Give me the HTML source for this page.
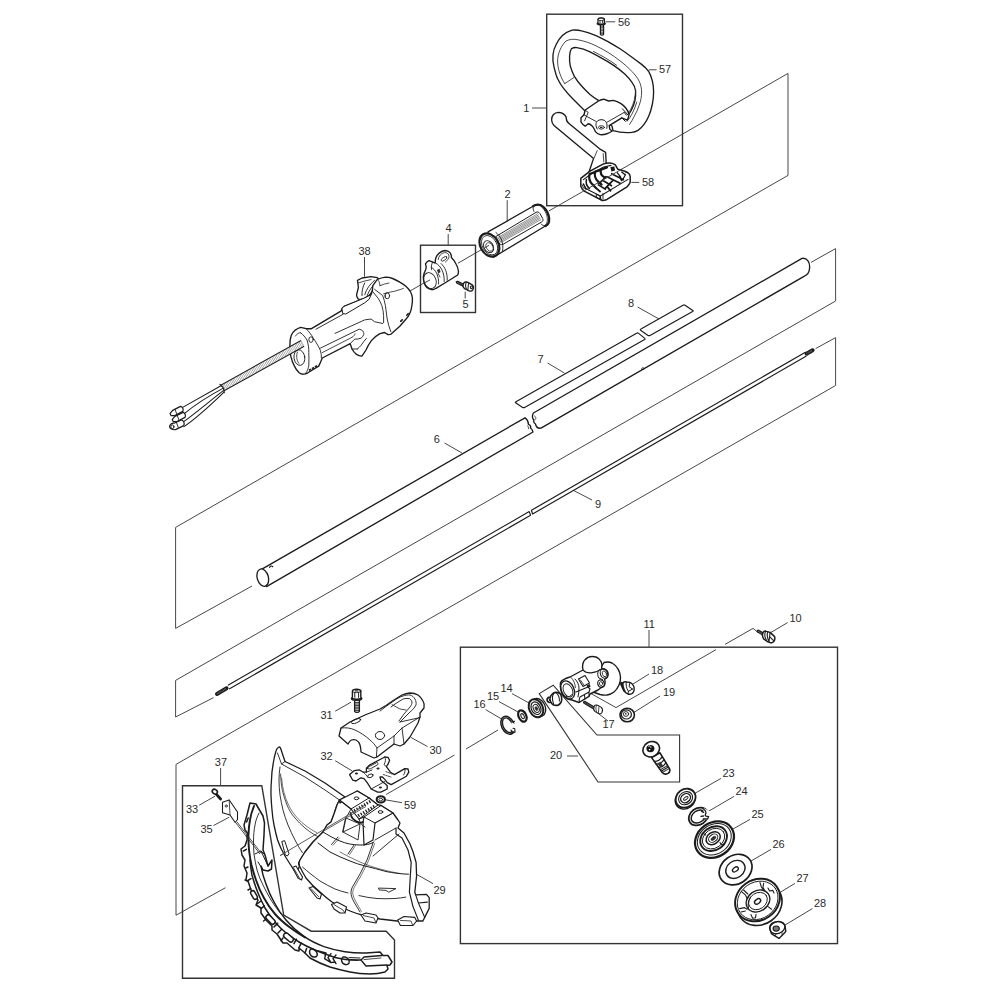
<!DOCTYPE html>
<html><head><meta charset="utf-8"><title>Parts diagram</title>
<style>
html,body{margin:0;padding:0;background:#fff;}
svg{display:block;}
text{font-family:"Liberation Sans",sans-serif;font-size:11px;fill:#2a2a2a;}
.g{fill:none;stroke:#484848;stroke-width:1;}
.b{fill:none;stroke:#333;stroke-width:1.4;}
.p{fill:#fff;stroke:#1c1c1c;stroke-width:1.35;stroke-linejoin:round;stroke-linecap:round;}
.n{fill:none;stroke:#1c1c1c;stroke-width:1.1;stroke-linejoin:round;stroke-linecap:round;}
.t{fill:none;stroke:#2a2a2a;stroke-width:0.85;stroke-linejoin:round;stroke-linecap:round;}
.k{fill:#333;stroke:#1c1c1c;stroke-width:0.8;}
</style></head>
<body>
<svg width="1000" height="1000" viewBox="0 0 1000 1000">
<rect width="1000" height="1000" fill="#fff"/>

<!-- ===== guide lines ===== -->
<g class="g" id="guides">
<!-- axis A -->
<path d="M612,174.7 L788,73.4 V175.4 L175.6,527.4 V628.4 L252,586"/>
<path d="M582.5,191.7 L548.8,211"/>
<path d="M485,247.6 L458,263.2"/>
<path d="M429.5,279.8 L410,291"/>
<!-- C -->
<path d="M811,262.4 L835.6,248.6 V301 L175.6,680.4 V717 L213.6,697.6"/>
<!-- D -->
<path d="M815.6,348.6 L835.6,337.6 V385.5 L176,764.4 V915.2 L225.5,887.7"/>
<!-- bolt10 line -->
<path d="M758,632.4 L753,628.4 L725,644.4"/>
<path d="M716,649.6 L616,707.6 L590,693"/>
<!-- from 16 -->
<path d="M498,730 L466,749"/>
<path d="M454.5,755 L386.2,794.5"/>
<path d="M320,833.7 L280.2,855.5"/>
</g>

<!-- ===== boxes ===== -->
<g class="b" id="boxes">
<rect x="546.7" y="14.2" width="135.8" height="191.5"/>
<rect x="420.5" y="245.2" width="55" height="67.3"/>
<rect x="460.4" y="647.2" width="377.1" height="296.4"/>
<path d="M539.2,693.6 L553.2,685.2 L597,735 H679.6 V782 H598 Z" style="stroke-width:1.1"/>
<path d="M182.5,785.7 H261.8 L283.7,915 L311.2,931.2 H386.2 L394.5,940 V978.2 H182.5 Z"/>
</g>

<!-- ===== labels ===== -->
<g id="labels">
<text x="523.2" y="111.6">1</text>
<text x="618" y="25.7">56</text>
<text x="659" y="73">57</text>
<text x="642" y="186">58</text>
<text x="504.5" y="198">2</text>
<text x="445.5" y="231.7">4</text>
<text x="462.5" y="308.2">5</text>
<text x="358.5" y="255">38</text>
<text x="628" y="306.6">8</text>
<text x="537.5" y="363">7</text>
<text x="433.7" y="443">6</text>
<text x="595" y="507.5">9</text>
<text x="789.5" y="622">10</text>
<text x="643.5" y="628">11</text>
<text x="500.5" y="692.4">14</text>
<text x="487" y="700.4">15</text>
<text x="473.5" y="708.4">16</text>
<text x="602.5" y="728">17</text>
<text x="651" y="673.6">18</text>
<text x="663" y="695.6">19</text>
<text x="550" y="758.6">20</text>
<text x="722.5" y="777">23</text>
<text x="735.5" y="795">24</text>
<text x="751.5" y="818">25</text>
<text x="772.5" y="847.6">26</text>
<text x="796.5" y="881.6">27</text>
<text x="814" y="907">28</text>
<text x="433.5" y="893.6">29</text>
<text x="429.5" y="754.3">30</text>
<text x="320.5" y="718.7">31</text>
<text x="320.5" y="759.7">32</text>
<text x="186" y="812.7">33</text>
<text x="200.5" y="833">35</text>
<text x="214.8" y="765.8">37</text>
<text x="404" y="808.7">59</text>
</g>

<!-- ===== leaders ===== -->
<g class="g" id="leaders">
<path d="M532,108 H546.7"/>
<path d="M605.6,21.8 H615.2"/>
<path d="M648.8,69.8 H656.6"/>
<path d="M631.4,182.4 H639.2"/>
<path d="M507.2,200.2 V221.2"/>
<path d="M448.2,234 V245.2"/>
<path d="M465.2,291.7 V298.5"/>
<path d="M364.5,257 V276.7"/>
<path d="M649,630 V647.2"/>
<path d="M787.6,622.6 L770,633"/>
<path d="M512,693.6 L529,703"/>
<path d="M499,701.6 L518,712"/>
<path d="M485.6,709.6 L501.6,719"/>
<path d="M608,721 L599,714"/>
<path d="M649,674 L633,684"/>
<path d="M660,696 L634,712.4"/>
<path d="M567,756 H578"/>
<path d="M721,778.4 L693,794.4"/>
<path d="M734,796.4 L708,811.6"/>
<path d="M750,819.4 L733,829"/>
<path d="M771,849.4 L751,861"/>
<path d="M795,883.4 L780,892.4"/>
<path d="M812.4,908.6 L785,925"/>
<path d="M335.2,711.2 L351,702.2"/>
<path d="M427.5,746.5 L411,737.5"/>
<path d="M335.2,760.7 L352.5,771.2"/>
<path d="M402,802.7 L384.7,799.7"/>
<path d="M199.2,805.2 L215,796.2"/>
<path d="M213.5,825.5 L229.2,817.2"/>
<path d="M220.6,768 V785.7"/>
<path d="M416,874 L433,883.6"/>
<path d="M637.6,307 L659,319"/>
<path d="M547.6,363 L564.4,373"/>
<path d="M444.5,443 L462,453"/>
<path d="M592,500 L573.7,490.5"/>
</g>

<!-- PARTS -->
<g id="tube">
<!-- decals -->
<path class="n" d="M641.4,328.8 L683,305.2 Q684,304.6 685,305.2 L692.8,310.4 Q693.6,311 692.6,311.6 L650,335.4 Q649,336 648,335.4 L640.6,330.2 Q639.8,329.6 641.4,328.8 Z" style="stroke-width:1.2"/>
<path class="n" d="M516.4,401.6 L636.6,333.2 Q637.6,332.6 638.6,333.4 L644.8,338.4 Q645.6,339 644.6,339.6 L524.6,407.4 Q523.6,408 522.6,407.4 L515.6,402.8 Q514.8,402.4 516.4,401.6 Z" style="stroke-width:1.2"/>
<!-- tube left half -->
<path class="p" d="M261.5,569.4 L525,417.8 C527,419.4 528.5,422.4 528.5,424.4 C530,425 531,426.6 530.5,428 C531.5,428.6 532.5,430 533,432 L266.5,586.6 Z" style="stroke-width:1.35"/>
<ellipse class="p" cx="262.8" cy="577.6" rx="5.6" ry="8.9" transform="rotate(-16 262.8 577.6)" style="stroke-width:1.35"/>
<path class="n" d="M269.6,567.4 c0.2,-1.4 2.4,-2 3.2,-0.6" style="stroke-width:1.2"/>
<!-- tube right half -->
<path class="p" d="M533.4,413 L802,258.4 C807,257.6 810,262 809.6,268 C809.4,272 807.5,275 804,276.4 L541,428.2 C537.5,428.8 536,426.4 535.5,424 C534,423 533.5,421 534,420 C532.5,418.6 532,415.6 533.4,413 Z" style="stroke-width:1.35"/>
<path class="n" d="M641.6,369.6 c-0.4,-1.6 1.2,-2.6 2.2,-1.6 c0.8,1 -0.2,2 -1.2,1.6" style="stroke-width:0.8"/>
<path class="t" d="M534.6,416 c1.2,0.6 1.6,2 1,3.2 M527.6,426 c1,0.4 1.4,1.6 1,2.6"/>
</g>
<g id="rod">
<path class="n" d="M228.4,685.1 L529.2,511.6 L530.6,515.2 L229.6,688.8" style="stroke-width:1.15"/>
<path class="n" d="M805.4,352.2 L531.4,510.3 L532.6,514.0 L806.0,356.3" style="stroke-width:1.15"/>
<path d="M217.0,693.9 L226.6,688.3" style="stroke:#1a1a1a;stroke-width:4;stroke-linecap:round;fill:none"/>
<path d="M217.0,693.9 L226.6,688.3" style="stroke:#777;stroke-width:1.6;stroke-dasharray:0.7 0.7;fill:none"/>
<path d="M806.6,353.7 L812.6,350.3" style="stroke:#1a1a1a;stroke-width:4;stroke-linecap:round;fill:none"/>
<path d="M806.6,353.7 L812.6,350.3" style="stroke:#777;stroke-width:1.6;stroke-dasharray:0.7 0.7;fill:none"/>
</g>
<g id="handle57">
<!-- loop outer -->
<path class="p" d="M572,30.2 C568,31.5 565,33 562.4,35.6 C560,38 558,41 556.4,44 C554.5,47.5 553.3,51 553,54.8 C552.6,59 553,63 554,66.8 C555,71 556,75 557.6,78.8 C559.3,82.3 561.2,85.5 563.6,88.4 C566,91.5 569,95 572,98 C576,102 580,106 584,110 L592,116 L612,126 L613,130.6 C619,132.4 626,133 632,132.4 C634,132.3 636,131.6 638,130.4 C640.3,128.8 642.3,126.8 644,124.4 C646,121.8 647.5,119 648.8,116 C650.5,112 651.6,108 652.4,104 C653.2,100 653.6,96 653.6,92 C653.6,88.3 653.3,84.7 652.4,81.2 C651.6,77.8 650.5,74.6 648.8,71.6 C646.8,68.7 644.3,66.5 641.6,64.4 C638.5,62 635.3,59.6 632,57.2 C628,54.3 624,51.5 620,48.8 C616,46.3 612,43.9 608,41.6 C604,39.5 600,37.5 596,35.6 C591,33.3 586.5,31.8 581.6,30.8 C578.3,30 575,29.8 572,30.2 Z"/>
<!-- inner opening -->
<path class="p" d="M571.4,48.8 C570.2,51 569.6,53.5 569.6,56 C569.4,59.3 569.6,62.5 570.2,65.6 C571.2,69.4 572.6,73 574.4,76.4 C576.4,79.8 578.8,83 581.6,86 C584.2,88.9 587,91.7 590,94.4 C592.7,96.6 595.5,98.6 598.4,100.4 L600,108 L622,112 L628.4,114.8 C629.9,113 631,111 632,108.8 C633.4,106 634.4,103.2 635,100.4 C635.6,97.2 635.8,94 635.6,90.8 C635.2,87.8 634,85 632,82.4 C629.9,79.4 627.5,76.6 624.8,74 C621.5,71 617.8,68.2 614,65.6 C610.2,63 606.2,60.6 602,58.4 C598,56 594,53.8 590,51.8 C585.7,49.6 581.3,48.2 576.8,47.6 C574.8,47.4 573,47.8 571.4,48.8 Z"/>
<!-- ridge lines -->
<path class="t" d="M564.8,83.6 C562.7,80.6 561.2,77.4 560,74 C558.6,70.1 557.8,66.1 557.6,62 C557.5,57.8 558.3,53.8 560,50 C561.4,46.6 563.4,43.6 566,41 C569.7,39.2 573.7,38.8 578,39.8 C584.2,41 590.2,43 596,45.8 C600.1,47.8 604.1,50 608,52.4 C612.2,55 616.2,57.8 620,60.8 C624.4,64 628.4,67.6 632,71.6 C635,74.5 637.4,77.7 639.2,81.2 C640.8,84.6 641.6,88.2 641.6,92 C641.6,96.5 640.8,100.9 639.2,105.2 C638,109 636.4,112.6 634.4,116 C633,119 631.4,121.8 629.6,124.4"/>
<path class="t" d="M593.5,51.5 C597.5,53.5 601.5,55.8 605.5,58 C609.5,60.3 613.2,62.8 616.5,65.2"/>
<path class="t" d="M564.8,83.6 L573.8,77.6"/>
<path class="t" d="M635.6,90 C635.6,93.3 635.2,96.5 634.4,99.6 C633.5,103 632.3,106.2 630.8,109.2 C629.8,111 628.6,112.6 627.2,114"/>
<path class="t" d="M636.8,102 C635.6,106.2 634,110.2 632,114 C630.6,116.6 629,119 627.2,121.2"/>
</g>
<g id="clamp57">
<path class="p" d="M585.2,110 L598.4,101 C600.4,99.8 602,99.2 603.8,99.2 L608.6,101 L613.4,100.4 C616,101 618.4,102 620.6,103.4 C622.8,104.8 624.6,106.4 626,108.2 C627.4,110 628.4,112 629,114.2 C628.8,116.6 628.2,118.6 627.2,120.2 L621.8,117.8 L609.2,125.6 L609.8,129.2 L612.2,131 C610.4,132.4 608.4,133.4 606.2,134 C604.2,134.6 602.2,134.8 600.2,134.6 C598.2,134 596.6,133 595.4,131.6 C594.6,129.6 593.6,127.8 592.4,126.2 C591,124.8 589.6,124 588.2,123.8 L585.2,126.2 C583.4,125.2 582,123.8 581,122 V117.8 L584,114.8 Z" style="stroke-width:1.4"/>
<path class="n" d="M587,116.6 L596,121.4 M607.4,122 L624.2,112.4" style="stroke-width:0.9"/>
<path class="n" d="M585.6,110.6 L588.2,112.4 L584.6,120.8 M584,114.8 L586,116" style="stroke-width:0.9"/>
<path class="n" d="M622.4,108.8 L627.8,114.8 M621.8,117.8 L625.4,121.4 M624.2,112.4 L626.4,115.2" style="stroke-width:1"/>
<path class="n" d="M597.2,129 C595.4,126 595.6,122.6 597.4,121 C599.4,119.4 602.6,119.2 604.8,120.6 C606.8,122 607.6,125 606.8,128.4" style="stroke-width:1"/>
<ellipse class="n" cx="601.4" cy="127.4" rx="3" ry="1.7" style="stroke-width:0.9"/>
<ellipse cx="601.2" cy="127.5" rx="1.4" ry="0.8" fill="#222"/>
</g>
<g id="bolt56">
<path class="p" d="M600.4,24.5 V34.5 C601,35.3 603,35.3 603.6,34.5 V24.5 Z" style="stroke-width:1.2"/>
<path d="M600.6,26.2 h3 M600.6,27.7 h3 M600.6,29.2 h3 M600.6,30.7 h3 M600.6,32.2 h3 M600.6,33.7 h3" stroke="#1a1a1a" stroke-width="0.8"/>
<path class="p" d="M598,19.2 C598,17.4 604.4,17.4 604.4,19.2 V22.4 L605.2,23.4 C605.2,25.2 597.2,25.2 597.2,23.4 L598,22.4 Z" style="stroke-width:1.3"/>
<ellipse class="n" cx="601.2" cy="19.3" rx="3.2" ry="1.3" style="stroke-width:0.8"/>
<path class="n" d="M600,20.6 V22.8 M602.6,20.6 V22.8" style="stroke-width:0.9"/>
<path d="M597.4,23.2 C599,24.4 603.4,24.4 605,23.2" stroke="#1a1a1a" stroke-width="1.4" fill="none"/>
</g>
<g id="base58">
<!-- bar -->
<path class="p" d="M551.6,120 C551.4,116 554,112.6 558.4,112.4 C561,112.4 563.4,113.4 565,115.2 C566,116.4 566.6,117.6 566.4,119 C566.4,121 567.6,122.6 569.6,124 L599.6,148.8 L605.6,152.4 L606.2,163 L589,172 L593.6,158.4 L554,125.6 C552.6,124.2 551.8,122.2 551.6,120 Z"/>
<path class="t" d="M597.2,150.6 L594.2,157.8 M603.2,153.6 L603.8,162"/>
<!-- base -->
<path class="p" d="M580.8,178.4 L590,171.2 L603,164.1 C605.4,163.4 607.8,163 610.1,163.1 C612.2,163.4 614,164 615.3,164.8 L617.9,169.3 L625,171.2 C626.6,171.8 628,172.7 629,173.8 C629.8,174.8 630.2,175.9 630.2,177.1 V182.3 C629.4,184.2 628.4,185.7 627,186.8 L606.2,199.8 C604.8,200.4 603.5,200.6 602.3,200.5 L584.7,191.4 C582.8,190 581.5,188.3 580.8,186.2 Z" style="stroke-width:1.5"/>
<path class="n" d="M583.4,179.6 L591,174 L603.6,167 L611,165.4 M584.6,188 L600.4,196 L628,179.4 M600.4,196 L600.8,199.6" style="stroke-width:1.1"/>
<path d="M589.6,174 C588.6,177.6 589.6,181.6 592.5,184.6 M595.2,171.6 C594.2,175.2 595.2,179 598.4,181.8 M601,169.6 C600,172.8 601.4,176 605.4,177.8 M589.6,174 L595,172 M595.2,171.6 L601.4,169.6 M601,169.6 L607,167.4 M592.4,184.4 L596,188 M598.4,181.8 L601.6,184.6" stroke="#161616" stroke-width="2.2" fill="none" stroke-linecap="round"/>
<path d="M586.4,179.6 C585.6,183 586.6,186 589.4,188.4 M583.4,184 L586,188.8" stroke="#161616" stroke-width="1.5" fill="none" stroke-linecap="round"/>
<path d="M610.4,167 L614.4,166.6 L615,170.6 L611.4,171.6 Z" fill="#161616"/>
<path d="M606.4,176.4 L620.6,183.6 M611,173.4 L624,180 M603,180.6 L612,186 M598,184.6 L606,189.6 M606.4,176.4 L598,184.6 M613.4,179.8 L605,188.6 M619.4,176 L622,181 M607,186.4 L611,191.4 M596,188 L600.6,192" stroke="#161616" stroke-width="1.7" fill="none"/>
<path d="M617,172.4 L621,177.6 M621.4,171.8 L625.4,175 L623,179" stroke="#161616" stroke-width="1.3" fill="none"/>
<path class="n" d="M625.6,172.6 C626.6,171.6 628,172 628.6,173.4" style="stroke-width:1"/>
<path class="n" d="M596.6,194.4 l3.4,1.8 v3 l-3.4,-1.6 z" style="stroke-width:1"/>
<path class="n" d="M582,184.6 l1.6,3.6 M603,193.4 V199" style="stroke-width:0.9"/>
</g>
<path class="g" d="M582.5,191.7 L622,169"/>
<g id="grip2">
<path class="p" d="M488,231.9 L534.8,205.3 C538,204 541,204.6 543.5,207 C546.2,209.6 548.2,213.2 549,217 C549.6,220.5 549,223 547.4,224.7 L493.4,257.3 Z" style="stroke-width:1.3"/>
<path class="n" d="M533,206.2 L534.8,205.3 C538,204 541,204.6 543.5,207 C546.2,209.6 548.2,213.2 549,217 C549.6,220.5 549,223 547.4,224.7 L545.4,226" style="stroke-width:2.2"/>
<path class="n" d="M534.8,205.3 C532.5,206.8 532.8,209 534,211.5 M547.4,224.7 C545,226.4 542.6,225.6 541,224" style="stroke-width:0.9"/>
<path class="n" d="M538,204.6 C542,205.6 546.5,212 547.3,218 C547.6,221 547,223.3 545.6,225" style="stroke-width:0.8"/>
<path class="n" d="M496.1,236.4 L536,212.4 C537.6,211.5 539,212 540,213.6 L542.6,218.4 C543.4,220 543,221.2 541.6,222 L502.8,244.4 C501.2,245.2 499.8,244.6 499,243 Z" style="stroke-width:1"/>
<path d="M497.2,237.9 L537.8,213.7 M497.9,238.9 L538.5,214.9 M498.5,239.9 L539.1,216.0 M499.1,240.9 L539.7,217.2 M499.7,241.9 L540.3,218.3 M500.4,242.9 L541.0,219.5 " stroke="#333" stroke-width="0.55" fill="none"/>
<ellipse class="p" cx="489.4" cy="245" rx="9" ry="12.4" transform="rotate(-30 489.4 245)" style="stroke-width:2.2"/>
<ellipse class="n" cx="489.6" cy="245.2" rx="7.2" ry="10.4" transform="rotate(-30 489.6 245.2)" style="stroke-width:0.8"/>
<path class="n" d="M496,232.6 C501,236 504,243 502.5,251.5" style="stroke-width:0.9"/>
<ellipse class="n" cx="488.6" cy="246.6" rx="4.6" ry="6.4" transform="rotate(-30 488.6 246.6)" style="stroke-width:0.9"/>
<ellipse class="n" cx="489.6" cy="247" rx="3.2" ry="4.6" transform="rotate(-30 489.6 247)" style="stroke-width:0.7"/>
<path class="g" d="M485,247.6 L489,245.3"/>
</g>
<g id="clamp4">
<path class="p" d="M425.5,263.8 C426.5,262 427.6,261 429,260.6 L435.3,263.1 C435.2,261 435.4,259.2 436,257.5 C436.7,255.6 437.9,254.1 439.5,252.9 C441.2,251.6 443.1,250.8 445.1,250.5 C447.1,250.6 448.8,251.3 450,252.6 C451,254 451.5,255.6 451.4,257.5 C453.5,259.5 455.1,261.8 456.3,264.5 C457.4,266.5 458.1,268.6 458.4,270.8 C458.6,272.4 458.3,273.8 457.7,275 L446.5,282 L436,288.3 C434.6,289.2 433.2,289.7 431.8,289.7 C430,289.6 428.3,288.9 426.9,287.6 C425.6,286.2 424.7,284.6 424.1,282.7 C423.5,280.7 423.3,278.6 423.4,276.4 C423.7,274.2 424.4,272.1 425.5,270.1 C426,268.9 426.2,267.7 426.2,266.6 C425.8,265.6 425.6,264.7 425.5,263.8 Z"/>
<ellipse class="n" cx="430" cy="280.6" rx="6" ry="8.2" transform="rotate(-22 430 280.6)" style="stroke-width:0.9"/>
<path class="n" d="M431.5,267.5 C436,270 439,276 438.6,284 M432.6,262.2 C431.4,264.4 431,267 431.5,269.5" style="stroke-width:0.9"/>
<path class="n" d="M436.2,263.4 C441,266 444.6,273 444.2,281.5 M441,263.5 C445,267 447.6,273 447.2,280.2" style="stroke-width:0.9"/>
<path class="n" d="M438.2,259.5 C438.6,256 441,253.2 444.6,252.6 C447.4,252.4 449,254 449,256.5 C448.8,258.5 447.5,260.4 445.4,262" style="stroke-width:0.8"/>
<ellipse class="n" cx="444" cy="258.8" rx="3.3" ry="1.5" transform="rotate(-35 444 258.8)" style="stroke-width:0.8"/>
<path d="M437,270 L439.4,268.4 L440.6,272 L438.2,273.6 Z" fill="#333"/>
<path class="t" d="M438.2,273.6 L440,277"/>
<path class="g" d="M430,279.9 L425,282.6"/>
</g>
<g id="bolt5">
<path d="M457.4,282.3 L464.6,285.9" stroke="#1a1a1a" stroke-width="3.2" stroke-linecap="round" fill="none"/><path d="M457.4,282.3 L464.6,285.9" stroke="#888" stroke-width="1.4" stroke-dasharray="0.6 0.7" fill="none"/>
<path class="p" d="M463.6,283.4 C464.4,281.8 466.4,281.6 468.4,282.6 L472.2,284.8 C473.4,285.8 473.6,288 472.8,289.8 C472,291 470.6,291.4 469.2,290.8 L464.6,288.6 C463,287.4 462.8,285 463.6,283.4 Z" style="stroke-width:1.4"/>
<path class="t" style="stroke-width:1.1" d="M466.4,282.2 C465.4,284 465.4,287 466.6,289.4 M468.6,283 L467.8,290.2 M470.4,287 a1,1.3 0 1 0 2,0.6 a1,1.3 0 1 0 -2,-0.6"/>
</g>
<g id="handle38">
<!-- rear top part behind head -->
<path class="p" d="M357.5,280.3 L362,278 L371,276.7 L377.3,277.6 L380,281 L366,300 L358.4,299.2 C357,297.6 356.4,296 356.6,294.7 L358.4,287.5 Z"/>
<path class="n" d="M364.7,283 C362.6,287 361.8,291.4 362,295.6 M374.6,280.3 C370,284 366.4,289 364.7,294.7 M377,281.5 C372.6,285.4 369,290.4 367,296" style="stroke-width:0.9"/>
<path class="t" d="M358.4,283 L364,281.2 L371,279.6"/>
<!-- body -->
<path class="p" d="M300.7,327.4 C298.7,328 296.9,328.9 295.3,330.1 C293.5,331.6 292.2,333.4 291.2,335.5 C290.3,338.3 289.9,341.3 289.9,344.5 C289.8,348.5 290.1,352.4 290.8,356.2 C291.6,359.8 292.8,363.1 294.4,366.1 C295.6,368.6 297.1,370.7 298.9,372.4 C300.3,373.6 301.8,374.2 303.4,374.2 C305,374.1 306.5,373.6 307.9,372.8 L318.7,366.1 L320,363.4 L322.3,358 L350.2,343.6 L352,349 C353.2,351.2 354.7,353 356.5,354.4 C358.2,355.5 360,356.1 361.9,356.2 L366,350 C367.4,346.6 369.2,343.5 371.4,340.6 C373.6,337.8 376.4,335.5 380,333.6 L384.5,332.5 L388.1,334.7 L390.8,334.3 L399.8,326.2 L406.1,319 C407.7,317.4 408.9,315.6 409.7,313.6 C410.9,311 411.6,308.3 411.9,305.5 C412.3,303 412.5,300.6 412.4,298.3 C412.2,296 411.6,293.9 410.6,292 C409.4,290 407.9,288.2 406.1,286.6 C404.2,284.9 402.1,283.4 399.8,282.1 C397.5,280.7 395.1,279.5 392.6,278.5 C390.3,277.6 387.9,277.1 385.4,277.1 C382.6,277.5 379.9,278.3 377.3,279.4 L372.8,285.7 L372.3,291.1 L371,294.7 L364,298.3 L344,306.4 L342.2,308.2 L341.3,310.8 L311.5,328.7 L306.1,328.7 Z"/>
<!-- lever -->
<path class="p" d="M342.2,308.2 L344,306.4 L363.8,298.3 L371,294.7 L369.2,299.2 L364.7,302.8 L345.8,314 L343.1,313.6 Z" style="stroke-width:1"/>
<!-- head lines -->
<path class="n" d="M372.3,291.1 L378.2,298.3 C379.6,300.6 380.8,303 381.8,305.5 C382.8,308.7 383.4,312 383.6,315.4 L383.6,322.6" style="stroke-width:0.9"/>
<path class="n" d="M374.6,289.3 L382.7,295.6 C383.9,298.8 384.8,302.1 385.4,305.5 C386.1,310 386.7,314.5 387.2,319 C388,323.4 389.2,327.6 390.8,331.6" style="stroke-width:0.9"/>
<path class="t" d="M380,285.7 C383,284.4 386,283.5 389,283 M383.6,293.8 C386,293 388.4,292.4 390.8,292 C393.3,291.6 395.7,291 398,290.2 C399.9,289.7 401.7,289.1 403.4,288.4"/>
<path class="t" d="M377.3,279.4 C379,280.5 380,283 380,285.7"/>
<ellipse class="n" cx="387.2" cy="295.8" rx="2.4" ry="3" style="stroke-width:0.9"/>
<path class="t" d="M386.2,293.4 C384.9,294.6 384.9,297.2 386.2,298.4"/>
<ellipse cx="401.5" cy="320.5" rx="2" ry="0.9" transform="rotate(-42 401.5 320.5)" fill="#222"/>
<ellipse cx="407.5" cy="314.5" rx="2" ry="0.9" transform="rotate(-50 407.5 314.5)" fill="#222"/>
<!-- body panel lines -->
<path class="n" d="M316,329.2 L343,314.3" style="stroke-width:0.9"/>
<path class="n" d="M320.5,348.1 L359.2,329.2 C360.6,329.4 361.8,330 362.8,331 C363.6,332 363.9,333.2 363.7,334.6 C363.2,336.2 362.3,337.4 361,338.2 C359,339 356.9,339.3 354.7,339.1 L350.2,343.6" style="stroke-width:0.9"/>
<path class="n" d="M322.3,352.6 L352,337.3 C353.6,336.4 354.6,335.2 355,333.8" style="stroke-width:0.8"/>
<path class="n" d="M335,333.4 L364.7,319.9 L371,319 L374.6,321.7 L382.7,323.5" style="stroke-width:0.9"/>
<path class="n" d="M357.4,349 C358.8,347.9 360,346.7 361,345.4 C362.6,343 364.4,340.6 366.4,338.4 M352,349 L357.4,349" style="stroke-width:0.9"/>
<!-- flange -->
<path class="n" d="M306.1,328.7 C307.5,329.8 308.7,331.2 309.7,332.8 C311.1,334.5 312.3,336.3 313.3,338.2 C315,340.5 316.5,342.9 317.8,345.4 C318.9,347.1 319.8,348.9 320.5,350.8 C321.2,353.2 321.5,355.6 321.4,358" style="stroke-width:0.9"/>
<path class="n" d="M300.7,332.8 C303.2,334.8 305.3,337.2 307,340 C308.3,344 308.9,348.2 308.8,352.6 C309,356.8 309,361 308.8,365.2 C308.4,368.4 307.4,371 305.8,373" style="stroke-width:0.9"/>
<path class="t" d="M295.5,336 C297,333.6 299,332.4 300.7,332.8"/>
<ellipse class="n" cx="311" cy="339.6" rx="2.2" ry="2.8" style="stroke-width:0.9"/>
<ellipse class="n" cx="299.4" cy="357.6" rx="5.4" ry="7.8" transform="rotate(-8 299.4 357.6)" style="stroke-width:0.9"/>
<path class="t" d="M297.5,352 C296,355 296.4,360 298.8,363.4"/>
<path d="M309,370.4 L318,365.2" stroke="#222" stroke-width="1.8" stroke-dasharray="2.4 1" fill="none"/>
</g>
<g id="cable">
<path d="M222.4,388 L302.6,343.4" stroke="#1c1c1c" stroke-width="7.6" fill="none"/>
<path d="M222.4,388 L302.6,343.4" stroke="#fff" stroke-width="5.4" fill="none"/>
<path d="M222.4,388 L302.6,343.4" stroke="#666" stroke-width="5.4" stroke-dasharray="0.45 1.2" fill="none"/>
<path class="n" d="M220,384.4 C222.4,386 224.4,389.6 224.2,392.6" style="stroke-width:1.2"/>
<!-- wires -->
<path class="n" d="M221,385.8 L182.2,407.6 M222.4,388.6 C208,396.4 195.4,404.4 184.6,413.4 M223.4,390.6 C211,400 197,412 183,422.2 M224,392.2 C213,402.6 199,416.6 184,426.6" style="stroke-width:1.05"/>
<path class="p" d="M170,413.6 L172.6,410.4 L180.6,406.4 C182.6,406.8 183.8,409.4 182.8,411.4 L174.8,415.6 L171,415.6 Z" style="stroke-width:1.2"/>
<path class="p" d="M172.2,419.6 L174.8,416.4 L183,412.4 C185,412.8 186,415.4 185,417.4 L177,421.6 L173.2,421.6 Z" style="stroke-width:1.2"/>
<path class="p" d="M174,423.2 L181.6,420 C183.8,420.6 184.8,423.4 183.8,425.6 L176,429.4 C173.2,430.4 170,429 169.6,426.8 C169.4,424.8 171.6,423 174,423.2 Z" style="stroke-width:1.2"/>
<ellipse class="n" cx="172.4" cy="426.8" rx="1.6" ry="1.9" style="stroke-width:1"/>
<path class="n" d="M176.4,422.4 l1.8,5 M175,409.4 l1.6,4.2 M177.2,415.4 l1.6,4.2" style="stroke-width:0.9"/>
</g>
<g id="box11parts">
<ellipse class="n" cx="507.8" cy="725.2" rx="6.3" ry="9.4" transform="rotate(-25 507.8 725.2)" style="stroke-width:1.5"/>
<ellipse class="n" cx="507.8" cy="725.2" rx="4.7" ry="7.8" transform="rotate(-25 507.8 725.2)" style="stroke-width:1.4"/>
<path d="M511.4,722.4 L517.4,724.6 L516.4,732 L511,730.2 Z" fill="#fff"/>
<path class="n" d="M512.6,721.6 l2,-0.4 M511,730 l1.4,2.8 l2.6,-0.6 l-0.2,-3.4 l-1.8,-0.6" style="stroke-width:1.1"/>
<ellipse class="p" cx="522.4" cy="716.0" rx="3.8" ry="6.0" transform="rotate(-25 522.4 716.0)" style="stroke-width:2.2"/>
<ellipse class="n" cx="522.6" cy="716.2" rx="1.5" ry="2.7" transform="rotate(-25 522.6 716.2)" style="stroke-width:1"/>
<ellipse class="p" cx="538.4" cy="707.4" rx="6.8" ry="9.4" transform="rotate(-25 538.4 707.4)" style="stroke-width:1.3"/>
<ellipse class="p" cx="536.0" cy="708.2" rx="6.8" ry="9.4" transform="rotate(-25 536.0 708.2)" style="stroke-width:2"/>
<ellipse class="n" cx="536.0" cy="708.2" rx="4.6" ry="6.6" transform="rotate(-25 536.0 708.2)" style="stroke-width:1.2"/>
<ellipse class="n" cx="536.2" cy="708.4" rx="2.8" ry="4.2" transform="rotate(-25 536.2 708.4)" style="stroke-width:1"/>
<ellipse class="k" cx="536.4" cy="708.6" rx="1.2" ry="2.0" transform="rotate(-25 536.4 708.6)" style="stroke-width:0.6"/>
<path class="p" d="M551.6,694.8 C552.8,693.4 554.2,692.6 555.6,692.4 C557,692.2 558.4,692.6 559.6,693.2 C560.8,694.2 561.4,695.6 561.6,697.2 C561.8,698.8 561.8,700.4 561.2,702 C560.4,703.4 559.4,704.6 558,705.2 C556.4,705.6 554.8,705.4 553.2,704.8 C552,704 551.2,703 550.8,702 L550,702.4 C548.8,702.6 547.8,702 547.2,700.8 C546.8,699.6 547,698.4 548,697.6 L550.4,697 C550.6,696.2 551,695.4 551.6,694.8 Z" style="stroke-width:1.6"/>
<path class="n" d="M553.6,693.4 C552.2,696 552.2,700 553.6,703.6 M556,692.6 C558.4,694.6 559.6,697.6 559.4,701 M550.4,697 C550,698.8 550.2,700.6 550.8,702" style="stroke-width:1.1"/>
<ellipse class="n" cx="548.4" cy="699.8" rx="1.1" ry="1.8" style="stroke-width:1"/>
<g id="gearcase">
<!-- flange disc -->
<path class="p" d="M604,662.5 C607,661.6 609.6,661.8 612,663 C614.6,664.4 616.6,666.4 618,669 C619.6,671.4 620.4,674 620.5,677 C620.6,680 620.2,682.6 619,685 C617.8,687.8 616.2,690.2 614,692 C612,693.6 609.6,694.6 607,695 C604.6,695.2 602.2,695 600,694.5 L593,692 L598,672 Z" style="stroke-width:1.4"/>
<!-- body -->
<path class="p" d="M563,680 C565,678.6 567.4,677.6 570,677 L583,670 C582.4,668 582.4,666 582.8,664 C583.6,661 585.4,658.8 588,657.4 C590.6,656.2 593.4,656.2 596,657 C598.4,658 600.2,659.6 601.2,661.8 C602,663.8 602.2,666 601.6,668.2 L603,669 C605.4,669 607.4,670.6 608,673 C608.4,675.4 607.6,677.6 605.6,678.6 L604.6,679.2 C605.4,681 605.4,683.4 604.6,685.2 C604,686.4 603,687.2 602,687 L598,690 L590,694 L589,696.4 L579,702.5 L572,700 C569,699.6 566.6,698.4 565,697 C563,695 561.6,692.6 561,690 C560.4,687.6 560.2,685.2 560.4,683 C561,681.6 561.8,680.6 563,680 Z" style="stroke-width:1.4"/>
<ellipse class="n" cx="567.6" cy="690" rx="6.4" ry="9.6" transform="rotate(-25 567.6 690)" style="stroke-width:1.4"/>
<ellipse class="n" cx="568" cy="690.4" rx="4.4" ry="7" transform="rotate(-25 568 690.4)" style="stroke-width:0.9"/>
<path class="n" d="M566,696.4 C568,697.4 570.4,696.6 571.6,694.6" style="stroke-width:0.9"/>
<path class="n" d="M575,679 C577.6,681.6 579,685 579,688 C579,691.4 578.6,694.4 578,697" style="stroke-width:1"/>
<path class="n" d="M571,677.4 C573.6,680 575.2,683.6 575.4,687.6" style="stroke-width:0.8"/>
<path class="n" d="M578.5,679 L585,675.5 L589.5,683 L583,686.5 Z" style="stroke-width:1.1"/>
<path class="t" d="M580.4,680 L584.4,685.6"/>
<!-- top cap -->
<path class="n" d="M583.4,670.4 C585,672.2 587.6,673 591,672.8 C594.6,672.6 597.8,671.6 600.2,669.6" style="stroke-width:1.2"/>
<!-- right boss -->
<ellipse class="n" cx="604" cy="673.6" rx="3.6" ry="4.8" transform="rotate(-20 604 673.6)" style="stroke-width:1.1"/>
<ellipse class="n" cx="604.4" cy="673.8" rx="2" ry="3" transform="rotate(-20 604.4 673.8)" style="stroke-width:0.8"/>
<path class="n" d="M598.4,670.6 C597.4,672.6 597.4,675.6 598.8,678 L602.6,679.6 M598.4,670.6 L602,668.6" style="stroke-width:1"/>
<!-- lower ring -->
<ellipse class="n" cx="601" cy="683.6" rx="3.2" ry="3.8" transform="rotate(-20 601 683.6)" style="stroke-width:1.2"/>
<ellipse class="n" cx="601" cy="683.6" rx="1.6" ry="2" transform="rotate(-20 601 683.6)" style="stroke-width:0.8"/>
<!-- clamp lugs -->
<path class="n" d="M576,692 L588,687 L590,689 L589,692 L580,697 M580,697 C579,699 579,701 579.6,702.4 M584.4,694.8 L585,699 M589,692 L589,696" style="stroke-width:1.1"/>
<path d="M586.6,685.4 L589.6,684 L590.6,686.4 L587.6,688 Z" fill="#1c1c1c"/>
</g>
<path d="M584.6,702.4 L595,708.6" stroke="#1a1a1a" stroke-width="3.2" stroke-linecap="round" fill="none"/><path d="M584.6,702.4 L595,708.6" stroke="#888" stroke-width="1.4" stroke-dasharray="0.6 0.7" fill="none"/>
<path class="p" d="M594.2,706.4 C594.8,705 596.4,704.6 598,705.4 L601.4,707.4 C602.6,708.6 602.8,710.6 602,712.4 C601.2,713.8 599.8,714.2 598.4,713.6 L594.8,711.4 C593.6,710 593.4,708 594.2,706.4 Z" style="stroke-width:1.1"/>
<path class="t" d="M596.6,705.2 C595.4,707.4 595.6,710.4 597,712.6 M599,706.4 L598.4,713"/>
<path d="M621.6,683.6 L624.6,690.4" stroke="#1a1a1a" stroke-width="3.4" stroke-linecap="round" fill="none"/>
<path class="p" d="M623.4,682.4 C624.4,681.6 625.4,681.6 626.4,682 L630,682.4 C631.6,683 632.8,684.4 633.6,686 C634.4,687.6 634.4,689.4 634,690.6 C633.6,692 632.8,693 632,693.6 C630.8,694.2 629.4,694.4 628,694 L625.6,692.6 C624.4,690.6 623.4,688.2 623,686 C622.8,684.6 622.8,683.4 623.4,682.4 Z" style="stroke-width:1.4"/>
<path class="n" d="M626.4,682 C625.6,684.4 626.2,688 628.4,691.4 L628,694 M628.4,691.4 L632.6,689 M630,682.4 L629,686.6 L632.4,689" style="stroke-width:1"/>
<ellipse class="p" cx="627.2" cy="715.0" rx="7.2" ry="6.8" transform="rotate(0 627.2 715.0)" style="stroke-width:1.6"/>
<ellipse class="n" cx="626.4" cy="714.4" rx="5.0" ry="4.6" transform="rotate(0 626.4 714.4)" style="stroke-width:1.2"/>
<ellipse class="n" cx="626.0" cy="714.0" rx="2.6" ry="2.4" transform="rotate(0 626.0 714.0)" style="stroke-width:0.9"/>
<circle cx="625.8" cy="713.8" r="0.9" fill="#333"/>
<path d="M758.2,631.2 L763.6,634.4" stroke="#1a1a1a" stroke-width="3.2" stroke-linecap="round" fill="none"/><path d="M758.2,631.2 L763.6,634.4" stroke="#888" stroke-width="1.4" stroke-dasharray="0.6 0.7" fill="none"/>
<path class="p" d="M763,632.6 C763.6,631.2 765,630.8 766.4,631.4 L770.1,632.4 L774.6,636.6 C775,638 774.9,639.4 774.3,640.8 C773.4,642.2 772.2,642.9 770.8,642.9 L767.3,641.5 L763.6,638.8 C762.4,637 762.2,634.6 763,632.6 Z" style="stroke-width:1.5"/>
<path class="n" d="M765.6,631.2 C764.4,633.6 764.8,637.4 766.6,640.6 M767.8,631.8 C766.8,634.4 767.2,638 769,641.6 M770.1,632.4 L769.6,636.6 L773.6,640.6 M769.6,636.6 L769,641.6" style="stroke-width:1.1"/>
<g id="p20bolt">
<path class="p" d="M651.6,757.6 L660,752.8 L669.6,768.8 C670.2,770.6 669.6,772.4 668,773.4 C666.2,774.4 663.8,774.2 662.4,772.8 Z" style="stroke-width:1.6"/>
<path class="n" d="M654.2,761.4 C657,761.6 660.4,759.6 662.2,756.6 M656.2,764.2 C659,764.2 662.2,762.4 664,759.6 M658.4,767.4 C661,767.4 664,765.6 665.8,762.8" style="stroke-width:1.3"/>
<path d="M660.6,769.6 L667.4,765.6 M661.6,771 L668.2,767 M662.6,772.4 L669,768.6" stroke="#1a1a1a" stroke-width="1.1"/>
<path d="M657.4,763.4 l2.6,3.6 l3,-1.6 l-2.6,-3.6 z" fill="#333"/>
<ellipse class="p" cx="651.2" cy="749.2" rx="8.6" ry="7.4" transform="rotate(-30 651.2 749.2)" style="stroke-width:1.6"/>
<ellipse cx="650.4" cy="748.6" rx="4" ry="3.7" fill="#161616"/>
<path d="M648.6,747 a1.2,1.2 0 1 1 2,1" stroke="#fff" stroke-width="0.7" fill="none"/>
<circle cx="649.6" cy="749.6" r="0.8" fill="#fff"/>
</g>
<ellipse class="p" cx="685.2" cy="799.6" rx="10.4" ry="9.0" transform="rotate(-35 685.2 799.6)" style="stroke-width:1.3"/>
<ellipse class="p" cx="685.6" cy="798.2" rx="10.4" ry="9.0" transform="rotate(-35 685.6 798.2)" style="stroke-width:1.8"/>
<ellipse class="n" cx="685.6" cy="798.2" rx="7.4" ry="6.2" transform="rotate(-35 685.6 798.2)" style="stroke-width:1.1"/>
<ellipse class="n" cx="685.6" cy="798.2" rx="5.2" ry="4.2" transform="rotate(-35 685.6 798.2)" style="stroke-width:1.4"/>
<ellipse class="n" cx="685.8" cy="798.4" rx="2.6" ry="1.3" transform="rotate(-35 685.8 798.4)" style="stroke-width:1"/>
<ellipse class="n" cx="698.4" cy="816.5" rx="10.3" ry="8.2" transform="rotate(-35 698.4 816.5)" style="stroke-width:1.7"/>
<ellipse class="n" cx="698.4" cy="816.5" rx="7.8" ry="5.8" transform="rotate(-35 698.4 816.5)" style="stroke-width:1.5"/>
<path d="M703.6,808 L711,812 L708.6,820.6 L702.6,818.6 Z" fill="#fff"/>
<path class="n" d="M703.2,808.8 C705.8,810.4 706.6,812.8 705.4,814.6 C705,815.4 705.4,816 706.2,816.2 L708.6,816.6 M703.4,818.8 L707.6,819 L708.6,816.6 M701.6,811.4 L703.6,812.4 M701,816.4 l2.4,-0.4" style="stroke-width:1.3"/>
<ellipse class="p" cx="714.5" cy="839.6" rx="20.6" ry="17.0" transform="rotate(-35 714.5 839.6)" style="stroke-width:2.2"/>
<ellipse class="n" cx="714.3" cy="839.2" rx="18.0" ry="14.6" transform="rotate(-35 714.3 839.2)" style="stroke-width:1"/>
<ellipse class="n" cx="713.6" cy="838.6" rx="14.2" ry="11.4" transform="rotate(-35 713.6 838.6)" style="stroke-width:1.9"/>
<ellipse class="n" cx="713.6" cy="838.6" rx="12.0" ry="9.4" transform="rotate(-35 713.6 838.6)" style="stroke-width:0.9"/>
<ellipse class="n" cx="713.2" cy="838.2" rx="7.6" ry="5.8" transform="rotate(-35 713.2 838.2)" style="stroke-width:1.5"/>
<ellipse class="n" cx="713.2" cy="838.2" rx="5.0" ry="3.6" transform="rotate(-35 713.2 838.2)" style="stroke-width:1"/>
<ellipse class="k" cx="713.4" cy="838.4" rx="2.8" ry="1.4" transform="rotate(-35 713.4 838.4)" style="stroke-width:0.7"/>
<path class="n" d="M720,842.6 l2,2.4 l2.6,-1.6 M705.6,835 l-2.2,-1.6" style="stroke-width:1.1"/>
<ellipse class="p" cx="735.6" cy="869.6" rx="17.4" ry="14.2" transform="rotate(-35 735.6 869.6)" style="stroke-width:1.7"/>
<ellipse class="n" cx="735.4" cy="869.4" rx="10.2" ry="8.4" transform="rotate(-35 735.4 869.4)" style="stroke-width:1.4"/>
<ellipse class="n" cx="735.4" cy="869.4" rx="3.3" ry="2.0" transform="rotate(-35 735.4 869.4)" style="stroke-width:1.3"/>
<ellipse class="p" cx="759.6" cy="904.2" rx="23.4" ry="20.2" transform="rotate(-35 759.6 904.2)" style="stroke-width:1.6"/>
<ellipse class="p" cx="757.5" cy="900.0" rx="23.4" ry="20.2" transform="rotate(-35 757.5 900.0)" style="stroke-width:1.9"/>
<ellipse class="n" cx="757.7" cy="900.4" rx="21.4" ry="18.2" transform="rotate(-35 757.7 900.4)" style="stroke-width:0.9"/>
<ellipse class="p" cx="758.0" cy="901.0" rx="12.6" ry="10.2" transform="rotate(-35 758.0 901.0)" style="stroke-width:1.3"/>
<ellipse class="n" cx="758.0" cy="901.0" rx="10.0" ry="8.0" transform="rotate(-35 758.0 901.0)" style="stroke-width:0.9"/>
<ellipse class="n" cx="757.6" cy="901.4" rx="3.4" ry="2.2" transform="rotate(-35 757.6 901.4)" style="stroke-width:1.4"/>
<path class="n" d="M760,882.6 l1.4,4.4 l2,3 M763.6,883.4 l-0.6,4 l2.2,4.2 M768,888 l1.6,3 l3.2,-0.6 l1.2,2.6 M741.6,891.6 l4,3.6 l1.4,3 M743.6,890 l4.2,4 M739.6,908.6 l5,-1 l2.4,1.6 M741,912 l4.4,-1 M751,914.6 l1.6,3.6 l3,-0.4 l0.4,-3.6 M768,906.6 l3.6,2.6 M748.6,908.6 c-1,-4 -0.4,-8 2,-11.6" style="stroke-width:1.1"/>
<path class="p" d="M769.6,927.8 C769.6,924.2 773.2,921.6 777.4,921.6 C781.6,921.6 785,924 785.2,927.2 L785.8,931.4 L782,935.4 L779,938.4 L775.6,936.4 L771.4,933.6 Z" style="stroke-width:1.4"/>
<ellipse class="n" cx="777.4" cy="927.6" rx="7.8" ry="5.9" transform="rotate(-20 777.4 927.6)" style="stroke-width:1.3"/>
<ellipse cx="776.2" cy="928.6" rx="3.1" ry="2.6" fill="#777" stroke="#1a1a1a" stroke-width="1.1"/>
<path class="t" d="M775.6,933.4 V936.4 M782,931.6 V935.4"/>
</g>
<g id="guard29">
<!-- back wall outer crescent -->
<path class="p" d="M279,747 C277.6,747.6 276.6,749 276,751 C274.6,755.6 273.6,760.4 273,765 C272,770 271.6,775 271.5,780 C271,785 270.9,790 271,795 C271.2,800 271.5,805 272,810 C272.4,815 273,820 274,825 C275,830 276.2,835 277.6,840 C279.6,846 282,851 285,856 C288.6,862 292.6,868 296.6,874 L299.5,866 C298,864 298.6,862 300,860 L305,852 L313,842 L323,832 L327,825 L331,822 L334,814 L337,805 L339.5,800 L345,797 L325,783 L305,771 L285,761.5 L280.5,748 C280,747.2 279.5,747 279,747 Z" style="stroke-width:1.3"/>
<path class="n" d="M277.5,753 L281.5,764 L305,777 L325,790 L339.5,800" style="stroke-width:0.9"/>
<path class="n" d="M281.5,764 L285,761.5" style="stroke-width:0.9"/>
<path class="n" d="M280,767 C279.4,771.4 279,775.6 279,780 C279,785 279.4,790 280,795 C280.8,800 281.8,805 283,810 C284.4,815 286,820 288,825 C290,830 292.4,835 295,840 C297,844 299.6,848.6 302.4,852.6" style="stroke-width:0.9"/>
<path class="n" d="M280.6,774 C280.8,780 281.4,785.4 282.4,790.6 C283.6,795.6 285.2,800.4 287,805 C289,810 291.6,814.2 295,818 C298,821.6 301.4,825 305,828 C308,830.6 311.4,833 315,835 L321,838.4" style="stroke-width:0.8"/>
<path class="n" d="M281.6,778 C282,783 282.8,788 284,792.6 C285.2,797 286.8,801.4 288.8,805.6 C291,810 293.8,814 297,817.6 C300,821 303.4,824 307,826.6 C310,828.8 313.2,830.8 316.6,832.6" style="stroke-width:0.6"/>
<!-- tab0 -->
<path class="n" d="M282.2,841.4 L284.6,840.6 L289,853.6 L287.4,856 L285.6,855 Z" style="stroke-width:1"/>
<!-- front shield -->
<path class="p" d="M323,832 L313,842 L305,852 L300,860 C298.8,862 299,864 299.5,866 C301.4,870 303.6,874 306,878 C310,883 314.6,887.6 320,892 C323.8,895.6 327.8,899 332,902 C337.6,905.6 343.6,908.6 350,911 C354,912.6 358,914 362,915 L380,919 L397,921 L419.3,921 L422.9,921 L424.7,917.4 L429.2,908.4 V897.6 L426.5,894.4 L415.7,894.9 L414.8,892.2 L416.6,876 L416.1,862.5 L413,851.7 L410,844 L404,833 L398,828 L400,823 L398,820 L393,813 L381,805.5 L378,805 L369,798 L357.5,791 L340,803 L339.5,800 L337,805 L334,814 L331,822 L327,825 Z" style="stroke-width:1.3"/>
<!-- tabs -->
<path class="p" d="M292.5,867.5 L296,866 L302.5,877 L301.5,880 L298,878 Z" style="stroke-width:1.1"/>
<path class="p" d="M309,888 L313,886.5 L321.5,894 L320,899 L317,898 Z" style="stroke-width:1.1"/>
<path class="p" d="M331.5,904.5 L337,902 L346.5,907 L345,913 L340,913 L334,909 Z" style="stroke-width:1.1"/>
<path class="p" d="M361,915 L366,913 L376,915 L378,918 L376,923 L365,921 Z" style="stroke-width:1.1"/>
<path class="p" d="M397.7,920.1 L404,916.5 L414.8,917.4 L416.6,921 L413,925.5 L400.4,925.5 Z" style="stroke-width:1.1"/>
<path class="t" d="M294,868.6 L299.6,878.4 M311,888.6 L318.6,896.6 M334,904.6 L343,910 L344.6,912.6 M363.4,915.6 L374,918 L375.6,922 M400.4,920.4 L411,921 L412.6,925"/>
<!-- right frame strip -->
<path class="n" d="M396,828 V834 L402,838 L408,850 L411.2,862.5 L410.3,876 L409.4,892.2 L413,906.6 L418.4,920.1" style="stroke-width:1.2"/>
<path class="n" d="M415.7,894.9 L418.4,903 L424.7,917.4 M418.4,903 L427.4,902.1" style="stroke-width:1.1"/>
<!-- arcs on shield -->
<path class="n" d="M318,843 C322,846 326,849 330,852 C336.6,855.4 343.2,858.4 350,861 C355,863 360,864.8 365,866 C372,867.8 379,869.4 386,871.5 C393.4,873 401,874 408.5,874.2" style="stroke-width:1"/>
<path class="n" d="M340,852 C346.6,855.6 353.2,859 360,862 C366.6,864.8 373.2,867.2 380,869 C386.6,870.8 393.2,872.4 400,873.5" style="stroke-width:0.6"/>
<path class="n" d="M302.5,867 C308,872 314,876.6 320,881 C325,884 330,886.6 335,889 C339.2,890.6 343.6,892 348,893" style="stroke-width:0.9"/>
<path class="n" d="M359,895.6 C365,897 371,898 377,898.5 C383,898.8 389,898.8 395,898.5 C398.6,898.2 402.2,897.8 405.8,897.1" style="stroke-width:0.9"/>
<!-- seam double line -->
<path class="n" d="M373,843 L367,860 L360,874 L353,886 C351.4,888.6 350.8,891.4 351,894 C351.6,897 352.6,899.6 354,902 L360,912" style="stroke-width:0.9"/>
<path class="n" d="M374.6,843.6 L368.6,860.6 L361.6,874.6 L354.6,886.6 C353.2,889 352.6,891.6 352.8,894 C353.4,896.8 354.4,899.2 355.8,901.6 L361.4,911.4" style="stroke-width:0.6"/>
<path class="n" d="M399,834 L373,856" style="stroke-width:0.9"/>
<path class="n" d="M375,840 L396,828" style="stroke-width:0.9"/>
<!-- arrow -->
<path class="n" d="M378.8,888.1 L395.9,888.6 L388.7,892.2 L386,890.4 L379.7,890 Z" style="stroke-width:0.9"/>
<!-- arc below block -->
<path class="n" d="M323,832 C328,835 334,838.6 340,841 C346,843.6 353,845 360,845 C365,845.2 370,844.6 374,842" style="stroke-width:1"/>
<path class="n" d="M331.5,844.5 L338,837 M348,854 L354,845" style="stroke-width:0.9"/>
<path class="n" d="M333,845.4 L339.4,838 M349.6,854.6 L355.4,845.6" style="stroke-width:0.6"/>
<!-- mount block -->
<path class="p" d="M339.5,800 L357.2,791 L369,798 L378,805 L381,805.5 L393,813 L375,823 L373,840 L364,845 L363,822 L364,817 L359,819 L351,809 Z" style="stroke-width:1.2"/>
<path class="n" d="M339.5,800 L351,809 L369,798 M364,817 L381,805.5 M364,817 L375,823 M359,819 L378,805" style="stroke-width:1"/>
<path class="n" d="M346,818 L360,824 L358,840 L343,832 Z M346,818 L343,832 M343,832 L360,824" style="stroke-width:0.9"/>
<path class="n" d="M351,809 L346,818 M359,819 C360,823 362,826 365,827" style="stroke-width:0.9"/>
<ellipse class="n" cx="356.5" cy="798.3" rx="2.3" ry="1.4" style="stroke-width:1"/>
<ellipse class="n" cx="380.5" cy="812" rx="2.3" ry="1.4" style="stroke-width:1"/>
<path d="M353,808.6 L370,798.6" stroke="#1a1a1a" stroke-width="3" stroke-dasharray="1.3 1.6" fill="none" transform="translate(1.2,2.2)"/>
<path d="M357,813.6 L374,803.6" stroke="#1a1a1a" stroke-width="3" stroke-dasharray="1.3 1.6" fill="none" transform="translate(1.2,2.2)"/>
<path class="n" d="M350.6,813 C351,817.6 354,821 359,822.4 C360.6,822.8 362,822.6 363,822" style="stroke-width:1.8"/>
</g>
<path class="g" d="M365,805 L280.2,855.5 M366,806.4 L322,832" style="stroke-width:0.9"/>
<g id="cover30">
<path class="p" d="M341,728 L339,736 L348,744 C349,742 350,740.6 351.5,740 C353,739.4 354.6,739.4 356,740 C358,741 359.4,742.8 360,745 C360.6,747.2 361,749.6 361,752 L374,758 L377,757 L394,744 L400,746 L404,744 L410,737 L418,723 L420,717 V713 L424,708 C424.6,705.4 424.2,703 423,701 C421.8,698.6 420.2,696.6 418,695 C415.6,693.6 413,693 410,693 C407.2,693.2 404.6,693.8 402,695 L394,700 L386,705.5 L380,709 L365,715 L350,722 Z" style="stroke-width:1.3"/>
<path class="n" d="M341,728 C346,727.4 350.8,728 355,730 C360.6,732.6 365.6,736 370,740 C372.8,742.4 375.2,745 377,748 L376.4,757.2 M377,748 L394,736 L402,728 L420,717 M394,736 V744 M402,728 L404,744 M400,722 L418,718 L420,717" style="stroke-width:0.9"/>
<path class="n" d="M380,711 L386,706.5 L395,700 C397.6,698.2 400.2,696.8 403,696 C405.4,695.2 407.8,694.8 410,695 C412.2,695.6 413.8,697 415,699 C416,701 416.4,703 416,705 C414.6,707.6 412.6,710 410,712 L405,717 L400,722" style="stroke-width:0.9"/>
<path class="n" d="M399,721 L404,714 L410,707 C411.4,705.4 412,703.6 412,702 C411.4,700.2 410.4,699 409,698.5 C407,698.2 405,698.4 403,699 L395,704 L391,707" style="stroke-width:0.9"/>
<path class="t" d="M392,704.6 L400,709 L406,710"/>
<ellipse class="n" cx="356" cy="721" rx="5" ry="1.9" transform="rotate(-20 356 721)" style="stroke-width:0.9"/>
<ellipse class="n" cx="380" cy="735.5" rx="4.6" ry="4" style="stroke-width:1"/>
</g>
<g id="bolt31">
<path class="p" d="M354.6,700 V711.4 C355.4,712.6 358.6,712.6 359.4,711.4 V700 Z" style="stroke-width:1.3"/>
<path d="M354.8,702.4 h4.4 M354.8,704 h4.4 M354.8,705.6 h4.4 M354.8,707.2 h4.4 M354.8,708.8 h4.4 M354.8,710.4 h4.4" stroke="#1a1a1a" stroke-width="0.9"/>
<path class="p" d="M352.4,691 C352.4,688.6 360.8,688.6 360.8,691 V697.2 L361.8,698.4 C361.8,700.8 351.4,700.8 351.4,698.4 L352.4,697.2 Z" style="stroke-width:1.4"/>
<ellipse class="n" cx="356.6" cy="691" rx="4.2" ry="1.6" style="stroke-width:0.9"/>
<path class="n" d="M354.8,692.6 V697.4 M358.6,692.6 V697.4" style="stroke-width:1"/>
<path d="M351.6,698.2 C354,699.6 359.4,699.6 361.6,698.2" stroke="#1a1a1a" stroke-width="1.6" fill="none"/>
<path d="M355,690.2 h3.2 v1.4 h-3.2 z" fill="#444"/>
</g>
<g id="bracket32">
<path class="p" d="M349.6,774.6 L354.4,770.6 L359.2,769.8 L363.2,772.2 L366.4,772.2 L366.4,768.2 L369.6,765 L384.8,757 L388,757.4 L389.6,760.2 L388,764.2 L386.4,766.6 L390.4,772.2 L394.4,774.6 L404.8,768.6 L408,769 L408.8,772.2 L406.4,776.2 L391.2,784.6 L387.2,782.6 L384.8,779.4 L382.4,777 L380,777 L380.8,780.2 L384.8,783.4 L387.2,785.8 V789 L380.8,792.2 H377.6 L371.2,789 L367.2,782.6 L364,778.6 L360.8,777.8 L356,781 L352.8,780.2 Z" style="stroke-width:1.3"/>
<path class="n" d="M367.6,768.6 C368,767 369.4,766 371,765.6 L376.6,762.6 C378,762.4 378.6,763.6 377.6,764.8 L371.6,768.2 C370,769 368.6,769.2 367.6,768.6 Z" style="stroke-width:0.9"/>
<ellipse class="n" cx="370.4" cy="775.8" rx="2.8" ry="1.7" transform="rotate(-20 370.4 775.8)" style="stroke-width:0.9"/>
<path class="n" d="M363.2,772.2 C365,773.6 366.6,775.4 368,777.6 M366.4,772.2 L372,770 M384.8,757 C386,759 385.6,762 384,764.6 L386.4,766.6 M404.8,768.6 C405.4,770.6 405,773 403.6,775 M371.2,789 L384.6,781.6" style="stroke-width:0.9"/>
<ellipse cx="356.4" cy="773.4" rx="1.6" ry="1" fill="#222"/>
<ellipse cx="378" cy="768.6" rx="1.6" ry="1" fill="#222"/>
<ellipse cx="380.4" cy="787.4" rx="1.6" ry="1" fill="#222"/>
<path class="t" d="M383.4,774.6 L391,777 M386,771.6 L392,774" style="stroke-dasharray:1.6 1"/>
</g>
<g id="washer59">
<ellipse class="p" cx="380.8" cy="799.4" rx="4.1" ry="3.1" style="stroke-width:2.1"/>
<ellipse class="n" cx="380.8" cy="799.6" rx="1.9" ry="1.3" style="stroke-width:0.9"/>
</g>
<g id="screw33">
<path d="M215.8,793.6 L220.6,799" stroke="#1a1a1a" stroke-width="2.8" fill="none" stroke-linecap="round"/>
<ellipse class="p" cx="214.8" cy="791.6" rx="2.7" ry="2.2" transform="rotate(35 214.8 791.6)" style="stroke-width:1.6"/>
</g>
<g id="plate35">
<path class="p" d="M222.5,802.2 L229.2,800 L237.5,812 V819.5 L235.2,822.5 L230,815 L222.5,812.7 Z" style="stroke-width:1.1"/>
<path class="t" d="M229.2,800 L230,815"/>
<circle class="n" cx="226.2" cy="806" r="1.1" style="stroke-width:0.8"/>
</g>
<g id="strip37">
<!-- band body -->
<path class="p" d="M250,803 L256,804 L263,816 L264.5,823 L264,835 L263,850 L265,855 L268,866 L272,860 L271.5,869 L268,871 L263,870 L261,866 C262,872 263.6,878 266,884 C268,890 270.6,896 274,902 C277,908 281,914 286,920 C291,926 297,931.6 304,936.4 C310,940.6 317,944 324,946.6 C331,949 338,950.8 345,951.8 C352,952.8 359,953.2 366,953 L380,952 L383,955.5 H388 L392,962 L390,965 L387,965.5 L388,969 L385,972 C380,973.4 375,974 370,974 C363,974 356.6,973.4 350,972 C343,970.6 336.6,969 330,967 C323,964.6 316.4,961.6 310,958 L305,953 L299,948 L299,951 L295,950 L287,943 L283,943 L277,934 L272,930 L272,926 L266,920 L261,913 L261,908 L256,905 L258,900 L253,895 L250,887 L248,881 L245,880 L246,880 L247,873 L244,866 L245,860 L242,855 L241,849 L245,846 L247,840 L247.5,833 L245,830 L244,825 L247,815 Z" style="stroke-width:1.5"/>
<!-- E1 thick -->
<path class="n" d="M254,806 C252,811 250.6,815.6 250,820 C249,825 248.6,830 248.5,835 C248.4,840 248.6,845 249,850 C249.6,855 250.4,860 251.5,865 C252.8,870 254.2,875 256,880 C258,886 260.6,892 264,898 C267,903.6 270.6,909 275,914 C279,918.6 284,923 290,927.6 C295,931.4 300,934.6 305,937.4" style="stroke-width:1.9"/>
<path class="n" d="M259,813 C257,817 255.6,821 255,825 C254,830 253.6,835 253.5,840 C253.4,845 253.6,849.6 254,854 C254.8,859.6 255.8,865 257,870 C258.6,875.4 260.6,880.4 263,885 C265.4,890 268,895 271,900 C274,905 277.4,909.6 281,914" style="stroke-width:0.9"/>
<!-- E2 -->
<path class="n" d="M250,860 C250.4,865 251,870 252,875 C253.6,881 255.6,887 258,893 C260,898 262.4,903 265,908 C268,913 271.4,917.6 275,922 C278,925.6 281.4,929 285,932 C289.4,935.6 294,939 299,942 C304,945 309.4,947.6 315,950 C321.6,952.8 328.2,955.2 335,957.5 C343,959.6 351,960.4 361,960" style="stroke-width:1.5"/>
<!-- hook -->
<path class="n" d="M255,854 L261,851 L265,855 M258,862 L263,870 M261,851 L268,866" style="stroke-width:1"/>
<!-- teeth details -->
<rect x="249.5" y="892.9" width="9.0" height="4.2" rx="1.9" transform="rotate(60 254.0 895.0)" fill="#fff" stroke="#1c1c1c" stroke-width="1.5"/>
<rect x="265.0" y="917.1" width="11.0" height="4.8" rx="2.2" transform="rotate(46 270.5 919.5)" fill="#fff" stroke="#1c1c1c" stroke-width="1.5"/>
<rect x="283.0" y="935.0" width="11.0" height="5.0" rx="2.3" transform="rotate(40 288.5 937.5)" fill="#fff" stroke="#1c1c1c" stroke-width="1.5"/>
<path class="n" d="M246.6,822 l1.6,-4 M246.4,836 l1.6,1.6 M243.4,851 l3,-1.6 M245.6,868 l2.4,-1 M247,881 l4,-2.4 M250.6,888.6 l-2.6,1.4 M257,904 l4,-3 M261,908.6 l3.4,-2.8 M266,919 l-2.4,2 M274,927 l3.6,-3.6 M278,933 l3.4,-3.6 M283,938 l-2,2.6 M294,943.6 l2.4,-4.4 M299,947.6 l2.2,-4.4 M305,953 l1.6,-4.6" style="stroke-width:1.5"/>
<!-- right end details -->
<path class="n" d="M361,960 L364,957 L382,955.5 M361,960 L366,966 L387,965" style="stroke-width:1.4"/>
<path class="n" d="M311,949 C309,950.4 309,953.4 311,955.6 C313,957.6 316,957.6 317,955.6 C318,953.4 316,950 313,949 Z" style="stroke-width:1.5"/>
<path class="n" d="M318,951 L326,953 L325,956 M326,953 L324.6,958.6 L331,962.6 L335,962 M331,953.6 L328,957.6 L331,962.6 M336,955 L333,958.6 L336,963.6" style="stroke-width:1.4"/>
<path class="n" d="M343,957 C341,958.4 341,961.4 343,963.4 C345,965.2 348,965 349,963 C350,960.8 348,957.6 345,957 Z" style="stroke-width:1.5"/>
<path class="n" d="M349,957.6 L360,958 M350,960 L358,960.4" style="stroke-width:1"/>
<path class="t" d="M364,959.6 L381,958"/>
</g>
<path class="g" d="M235.6,822.5 L260,854 M237,822 L261.4,853.4" style="stroke-width:0.9;stroke:#333"/>
<!-- PARTS9 -->
</svg>
</body></html>
